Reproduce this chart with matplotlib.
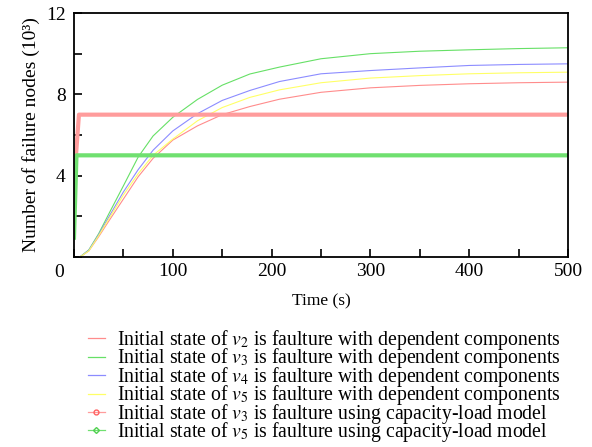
"""Failure node growth: dependent components vs capacity-load model."""

import matplotlib

matplotlib.use("Agg")
import matplotlib.pyplot as plt
from matplotlib.ticker import FuncFormatter, MultipleLocator

plt.rcParams["font.family"] = "Liberation Serif"
plt.rcParams["mathtext.fontset"] = "stix"

# time (s) for the dependent-component curves
t_dep = [6, 15, 25, 35, 50, 65, 80, 100, 125, 150, 178, 208, 250, 300, 350, 400, 450, 500]
v2_dep = [0, 0.3, 1.0, 1.75, 2.85, 3.95, 4.85, 5.75, 6.45, 7.0, 7.4, 7.76, 8.1, 8.32, 8.44, 8.52, 8.57, 8.6]
v3_dep = [0, 0.35, 1.15, 2.1, 3.5, 4.92, 5.95, 6.87, 7.75, 8.45, 9.0, 9.34, 9.75, 10.0, 10.12, 10.19, 10.25, 10.29]
v4_dep = [0, 0.33, 1.1, 1.95, 3.2, 4.3, 5.25, 6.2, 7.05, 7.7, 8.19, 8.63, 9.01, 9.17, 9.3, 9.42, 9.47, 9.5]
v5_dep = [0, 0.3, 1.05, 1.85, 3.05, 4.1, 5.0, 5.8, 6.7, 7.35, 7.85, 8.22, 8.57, 8.8, 8.92, 9.01, 9.06, 9.09]

# capacity-load model
t_cap_v3 = [2, 5, 500]
v3_cap = [5.0, 7.0, 7.0]
t_cap_v5 = [0, 2.5, 500]
v5_cap = [0.95, 5.0, 5.0]

labels = [
    r"Initial state of $v_2$ is faulture with dependent components",
    r"Initial state of $v_3$ is faulture with dependent components",
    r"Initial state of $v_4$ is faulture with dependent components",
    r"Initial state of $v_5$ is faulture with dependent components",
    r"Initial state of $v_3$ is faulture using capacity-load model",
    r"Initial state of $v_5$ is faulture using capacity-load model",
]

fig = plt.figure(figsize=(5.92, 4.47), dpi=100)
ax = fig.add_axes([74 / 592, 1 - 257 / 447, 494 / 592, 244 / 447])

ax.plot(t_dep, v2_dep, color="#ff8c8c", lw=0.8, label=labels[0])
ax.plot(t_dep, v3_dep, color="#66e066", lw=0.8, label=labels[1])
ax.plot(t_dep, v4_dep, color="#8c8cff", lw=0.8, label=labels[2])
ax.plot(t_dep, v5_dep, color="#ffff66", lw=0.8, label=labels[3])
ax.plot(t_cap_v3, v3_cap, color="#ff9c9c", lw=3, marker="o", ms=3.5,
        mfc="none", mec="#ff6060", markevery=[], label=labels[4])
ax.plot(t_cap_v5, v5_cap, color="#70e070", lw=3, marker="D", ms=3,
        mfc="none", mec="#50d050", markevery=[], label=labels[5])

ax.set_xlim(0, 500)
ax.set_ylim(0, 12)
ax.xaxis.set_major_locator(MultipleLocator(100))
ax.xaxis.set_minor_locator(MultipleLocator(50))
ax.xaxis.set_major_formatter(FuncFormatter(lambda v, p: "" if v == 0 else f"{v:g}"))
ax.set_yticks([4, 8, 12])
ax.yaxis.set_minor_locator(MultipleLocator(2))
ax.tick_params(which="both", direction="in", length=6, width=1.2,
               top=False, right=False, labelsize=14)
ax.tick_params(axis="x", pad=4)
ax.tick_params(axis="y", pad=6)
for s in ax.spines.values():
    s.set_linewidth(1.3)
# the origin label sits left of the corner
ax.annotate("0", xy=(0, 0), xycoords="axes fraction", xytext=(-7, -5),
            textcoords="offset points", ha="right", va="top", fontsize=14)

ax.set_xlabel("Time (s)", fontsize=12.5, labelpad=10)
ax.set_ylabel("Number of failure nodes (10³)", fontsize=14, labelpad=4)

handles, lbls = ax.get_legend_handles_labels()
leg = fig.legend(handles, lbls, loc="upper left", bbox_to_anchor=(88 / 592, 1 - 328 / 447),
                 frameon=False, fontsize=14.2, handlelength=0.85, handletextpad=0.6,
                 labelspacing=-0.28, borderpad=0, borderaxespad=0)
for line in leg.get_lines():
    line.set_linewidth(0.9)

fig.savefig("out.png", dpi=100)
